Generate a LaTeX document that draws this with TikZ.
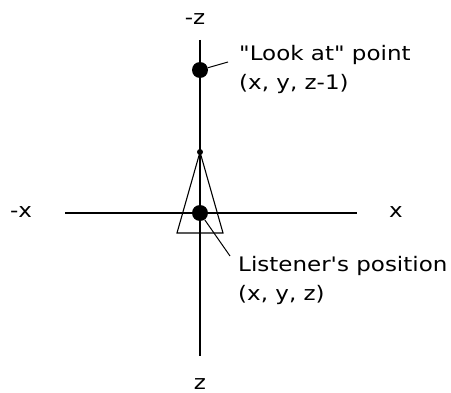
\documentclass[tikz,border=0pt]{standalone}
\usepackage{fontspec}
\setmainfont{DejaVu Sans}[FakeStretch=1.15,Ligatures=TeXOff]
\usetikzlibrary{positioning}

\tikzset{
  axis/.style={line width=1.6pt},
  dot/.style={circle,fill=black,inner sep=0pt,minimum size=#1},
  lbl/.style={font=\fontsize{20}{29}\selectfont,inner sep=0pt},
}

\begin{document}
\begin{tikzpicture}[x=1pt,y=-1pt]
\useasboundingbox (0,0) rectangle (451,393);

% Axes
\coordinate (ztop) at (200,40);
\coordinate (zbot) at (200,356);
\coordinate (xleft) at (65,213);
\coordinate (xright) at (357,213);
\draw[axis] (ztop) -- (zbot);
\draw[axis] (xleft) -- (xright);

% Axis labels
\node[lbl] (mz) at (195,19) {-z};
\node[lbl] (pz) at (200,384) {z};
\node[lbl] (mx) at (21,212) {-x};
\node[lbl] (px) at (396,212) {x};

% Listener cone
\node[dot=6pt] (apex) at (200,152) {};
\draw[line width=1.1pt] (apex.center) -- (177,233) -- (223,233) -- cycle;

% Look at point
\node[dot=16pt] (lookdot) at (200,70) {};
\coordinate (lookend) at (228,62);
\draw[line width=1pt] (lookdot) -- (lookend);
\node[lbl,align=left,anchor=north west] (looklbl) at (239,45)
  {"Look at" point\\(x, y, z-1)};

% Listener position
\node[dot=16pt] (listdot) at (200,213) {};
\coordinate (listend) at (230,256);
\draw[line width=1pt] (listdot) -- (listend);
\node[lbl,align=left,anchor=north west] (listlbl) at (238,256)
  {Listener's position\\(x, y, z)};

\end{tikzpicture}
\end{document}
